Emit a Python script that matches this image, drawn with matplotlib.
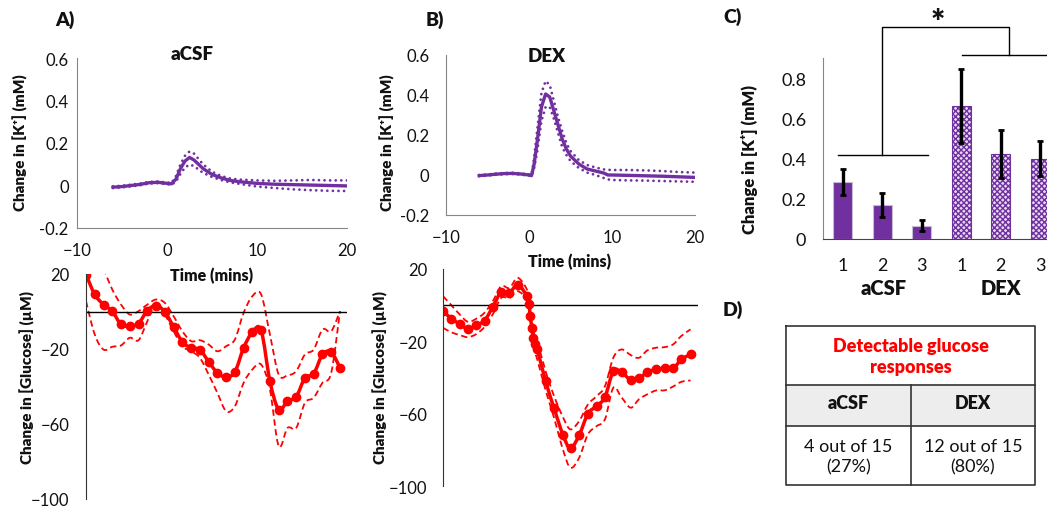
import numpy as np
import matplotlib.pyplot as plt
from matplotlib.path import Path
from matplotlib.patches import PathPatch

plt.rcParams['font.family'] = ['Lato', 'DejaVu Sans']

W, H = 1047, 510
PURPLE = '#7030A0'
RED = '#FF0000'
GREY = '#868686'

# --- K+ traces (mM), panel A (aCSF) and B (DEX) ---
k_acsf_t = [-6, -5, -4, -3, -2, -1, 0, 0.5, 1, 1.5, 2, 2.5, 3, 3.5, 4, 5, 6, 7, 8, 10, 12, 14, 16, 18, 20]
k_acsf_mean = [-0.008, -0.005, 0.0, 0.005, 0.013, 0.015, 0.01, 0.008, 0.03, 0.08, 0.115, 0.132, 0.12,
               0.1, 0.08, 0.052, 0.036, 0.024, 0.018, 0.01, 0.006, 0.004, 0.002, 0.0, -0.002]
k_acsf_hi = [-0.004, -0.001, 0.004, 0.009, 0.017, 0.019, 0.014, 0.012, 0.045, 0.1, 0.14, 0.16, 0.15,
             0.125, 0.1, 0.065, 0.045, 0.033, 0.028, 0.024, 0.022, 0.024, 0.026, 0.024, 0.024]
k_acsf_lo = [-0.012, -0.009, -0.004, 0.001, 0.009, 0.011, 0.006, 0.004, 0.018, 0.055, 0.085, 0.098, 0.092,
             0.075, 0.06, 0.04, 0.026, 0.015, 0.008, -0.005, -0.012, -0.018, -0.022, -0.025, -0.026]

k_dex_t = [-6, -5, -4, -3, -2, -1, 0, 0.3, 0.6, 1, 1.5, 2, 2.5, 3, 3.5, 4, 4.5, 5, 6, 7, 8, 9, 9.5,
           10, 12, 14, 16, 18, 20]
k_dex_mean = [-0.003, 0.0, 0.004, 0.007, 0.008, 0.005, 0.0, -0.003, 0.05, 0.17, 0.34, 0.405, 0.39, 0.32,
              0.25, 0.18, 0.13, 0.095, 0.055, 0.03, 0.02, 0.01, 0.0, 0.0, -0.002, -0.004, -0.006, -0.009, -0.012]
k_dex_hi = [0.0, 0.003, 0.007, 0.01, 0.011, 0.008, 0.003, 0.0, 0.08, 0.23, 0.41, 0.47, 0.45, 0.37,
            0.29, 0.22, 0.16, 0.12, 0.075, 0.05, 0.038, 0.028, 0.026, 0.025, 0.025, 0.023, 0.02, 0.015, 0.012]
k_dex_lo = [-0.006, -0.003, 0.001, 0.004, 0.005, 0.002, -0.003, -0.006, 0.03, 0.12, 0.27, 0.34, 0.34, 0.28,
            0.21, 0.14, 0.1, 0.07, 0.035, 0.012, 0.0, -0.015, -0.022, -0.025, -0.027, -0.028, -0.03, -0.032, -0.034]

# --- glucose traces (uM) ---
glu_acsf_t = list(range(-9, 21))
glu_acsf_mean = [19.7, 9.1, 3.7, 0.2, -6.9, -7.8, -6.4, 0.5, 3.2, -0.2, -8.2, -16.2, -19.4, -20.3, -26.8,
                 -32.7, -35.0, -32.2, -19.4, -11.0, -10.1, -37.2, -52.3, -47.8, -45.5, -35.4, -33.2, -22.9,
                 -21.7, -30.0]
glu_acsf_hi = [np.nan, np.nan, 23, 11.7, 3.7, -1.6, 0.2, 3.7, 6.4, 4.6, -2.5, -10.5, -15.8, -15.3, -17.6,
               -21.2, -18.5, -14.9, -0.7, 8.2, 9.1, -12.3, -33.6, -34.1, -31.8, -22.9, -20.3, -9.6, -10.5, 0.2]
glu_acsf_lo = [5.5, -12.3, -20.3, -18.8, -18.1, -14.0, -15.3, -5.2, 4.6, -1.6, -10.5, -18.5, -21.2, -24.7,
               -33.6, -43.4, -53.2, -50.5, -38.0, -30.9, -28.3, -41.6, -71.8, -62.1, -62.1, -48.7, -46.0,
               -38.0, -32.7, 0.2]

glu_dex_t = [-10, -9, -8, -7, -6, -5, -4, -3, -2, -1, 0.1, 0.35, 0.5, 0.7, 0.85, 1.05, 1.35, 2.35, 3.35,
             4.45, 5.35, 6.4, 7.45, 8.5, 9.5, 10.5, 11.5, 12.6, 13.6, 14.6, 15.7, 16.7, 17.7, 18.7, 19.8]
glu_dex_mean = [-3.3, -7.4, -10.3, -13.1, -11, -8.5, -0.9, 7.2, 6.8, 11.4, 5.0, 0.4, -6, -12.5, -18, -21.7,
                -24.5, -42, -56.7, -71.8, -79.2, -71.8, -60, -55.8, -50.8, -36.5, -37, -41.4, -40.5, -37,
                -35.5, -35, -35, -30, -27.2]
glu_dex_hi = [5.0, 0, -5.1, -9.2, -7.5, -4.2, 2.2, 10.5, 9.5, 15.1, 8.7, 3, -2, -8, -13, -17, -20, -36.5,
              -50, -62, -68.7, -64, -54.9, -50.3, -44.8, -29.1, -24.5, -27.6, -29.1, -25, -23.5, -23.2,
              -21.7, -17, -13.4]
glu_dex_lo = [-12.5, -15, -16.5, -17.7, -16, -12, -5, 4.0, 4.0, 7.7, 3.1, -3, -9, -16, -22, -26, -30, -47,
              -62, -80, -89.9, -84.3, -71.4, -66.9, -63.1, -45.7, -51, -56.7, -52, -49.3, -47.1, -47.1,
              -45, -42.4, -41.6]

# --- panel C bars ---
bar_groups = ['aCSF', 'DEX']
bar_labels = ['1', '2', '3', '1', '2', '3']
bar_means = [0.283, 0.17, 0.067, 0.662, 0.423, 0.40]
bar_sems = [0.064, 0.061, 0.029, 0.185, 0.118, 0.088]

# --- panel D table ---
table_title = 'Detectable glucose\nresponses'
table_head = ['aCSF', 'DEX']
table_cells = ['4 out of 15\n(27%)', '12 out of 15\n(80%)']


def box(l, t, r, b):
    # pixel box -> figure fraction rect
    return [l / W, 1 - b / H, (r - l) / W, (b - t) / H]


def smooth_path(t, y):
    # Excel-style smoothed line: cubic bezier through the points (catmull-rom handles)
    pts = np.array([(a, b) for a, b in zip(t, y) if not np.isnan(b)], float)
    verts = [pts[0]]
    codes = [Path.MOVETO]
    n = len(pts)
    for i in range(n - 1):
        p0 = pts[max(i - 1, 0)]
        p1, p2 = pts[i], pts[i + 1]
        p3 = pts[min(i + 2, n - 1)]
        c1 = p1 + (p2 - p0) / 6
        c2 = p2 - (p3 - p1) / 6
        verts += [c1, c2, p2]
        codes += [Path.CURVE4] * 3
    return Path(verts, codes)


fig = plt.figure(figsize=(W / 100, H / 100), dpi=100)
TXT = '#111111'


def k_panel(rect, t, mean, hi, lo, ypad):
    ax = fig.add_axes(rect)
    for s in (hi, lo):
        ax.plot(t, s, color=PURPLE, lw=2.0, ls=(0, (0.01, 2.0)), dash_capstyle='round')
    ax.plot(t, mean, color=PURPLE, lw=2.4)
    ax.set_xlim(-10, 20)
    ax.set_ylim(-0.2, 0.6)
    ax.set_xticks([-10, 0, 10, 20])
    ax.set_yticks([-0.2, 0, 0.2, 0.4, 0.6])
    ax.set_yticklabels(['-0.2', '0', '0.2', '0.4', '0.6'])
    ax.tick_params(axis='y', length=0, labelsize=12, pad=ypad, colors=TXT)
    ax.tick_params(axis='x', length=0, labelsize=12, pad=10, colors=TXT)
    for s in ('top', 'right'):
        ax.spines[s].set_visible(False)
    for s in ('left', 'bottom'):
        ax.spines[s].set_color(GREY)
    return ax


def glu_panel(rect, t, mean, hi, lo, xlim, ypad):
    ax = fig.add_axes(rect)
    ax.axhline(0, color='black', lw=1)
    for s in (hi, lo):
        ax.add_patch(PathPatch(smooth_path(t, s), fill=False, edgecolor=RED, lw=1.3,
                               ls=(0, (3.5, 2))))
    ax.add_patch(PathPatch(smooth_path(t, mean), fill=False, edgecolor=RED, lw=2.5))
    ax.plot(t, mean, ls='none', color=RED, marker='o', ms=6)
    ax.set_xlim(*xlim)
    ax.set_ylim(-100, 20)
    ax.set_xticks([])
    ax.set_yticks([-100, -60, -20, 20])
    ax.tick_params(axis='y', length=0, labelsize=12, pad=ypad, colors=TXT)
    for s in ('top', 'right', 'bottom'):
        ax.spines[s].set_visible(False)
    ax.spines['left'].set_color('#333333')
    return ax


k_panel(box(77, 59, 347, 229), k_acsf_t, k_acsf_mean, k_acsf_hi, k_acsf_lo, 6)
k_panel(box(446, 56, 695, 216), k_dex_t, k_dex_mean, k_dex_hi, k_dex_lo, 12)
glu_panel(box(86, 275, 347, 500), glu_acsf_t, glu_acsf_mean, glu_acsf_hi, glu_acsf_lo, (-9, 20.8), 12)
glu_panel(box(443, 270, 698, 487), glu_dex_t, glu_dex_mean, glu_dex_hi, glu_dex_lo, (-10, 20.7), 11)

# panel C
axc = fig.add_axes(box(823, 59, 1060, 240))
x = np.arange(len(bar_means))
axc.bar(x[:3], bar_means[:3], width=0.48, color=PURPLE, edgecolor='#c8bcd4', lw=0.8)
axc.bar(x[3:], bar_means[3:], width=0.48, color='#e6d9f0', edgecolor=PURPLE, lw=0.8, hatch='xxxxxx')
axc.errorbar(x, bar_means, yerr=bar_sems, fmt='none', ecolor='black', elinewidth=2.4, capsize=2.5,
             capthick=2)
axc.set_xlim(-0.5, 5.5)
axc.set_ylim(0, 0.9)
axc.set_yticks([0, 0.2, 0.4, 0.6, 0.8])
axc.set_yticklabels(['0', '0.2', '0.4', '0.6', '0.8'])
axc.set_xticks(x)
axc.set_xticklabels(bar_labels)
axc.tick_params(axis='y', length=0, labelsize=13, pad=12, colors=TXT)
axc.tick_params(axis='x', length=0, labelsize=13, pad=13, colors=TXT)
for s in ('top', 'right'):
    axc.spines[s].set_visible(False)
axc.spines['left'].set_color(GREY)
axc.spines['bottom'].set_color('#444444')

# significance bracket
bk = dict(color='black', lw=1, clip_on=False)
axc.plot([-0.12, 2.15], [0.42, 0.42], **bk)
axc.plot([1.0, 1.0, 4.22, 4.22], [0.42, 1.053, 1.053, 0.917], **bk)
axc.plot([3.01, 6.0], [0.917, 0.917], **bk)

# overlay for labels and the table
ov = fig.add_axes([0, 0, 1, 1])
ov.set_xlim(0, W)
ov.set_ylim(H, 0)
ov.axis('off')

bold = dict(fontweight='heavy', ha='center', va='center', color=TXT)
for lab, px, py in [('A)', 65, 20), ('B)', 435, 20), ('C)', 733, 17), ('D)', 733, 310)]:
    ov.text(px, py, lab, fontsize=14, **bold)
ov.text(192, 54, 'aCSF', fontsize=13.5, **bold)
ov.text(547, 57, 'DEX', fontsize=13.5, **bold)
ov.text(212, 276, 'Time (mins)', fontsize=11.5, **bold)
ov.text(570, 262, 'Time (mins)', fontsize=11.5, **bold)
ov.text(20, 143, 'Change in [K⁺] (mM)', fontsize=11, rotation=90, **bold)
ov.text(387, 143, 'Change in [K⁺] (mM)', fontsize=11, rotation=90, **bold)
ov.text(27, 378, 'Change in [Glucose] (µM)', fontsize=11, rotation=90, **bold)
ov.text(380, 378, 'Change in [Glucose] (µM)', fontsize=11, rotation=90, **bold)
ov.text(750, 160, 'Change in [K⁺] (mM)', fontsize=12, rotation=90, **bold)
ov.text(884, 289, bar_groups[0], fontsize=14.5, **bold)
ov.text(1001, 289, bar_groups[1], fontsize=14.5, **bold)
ov.text(938, 24, '*', fontsize=24, **bold)

# table D
tl, tr, tt, tb = 786, 1035, 327, 486
r1, r2, cm = 386, 427, 911
ov.fill_between([tl, tr], r1, r2, color='#EDEDED', lw=0)
tk = dict(color='#333333', lw=1.2)
ov.plot([tl, tr, tr, tl, tl], [tt, tt, tb, tb, tt], **tk)
ov.plot([tl, tr], [r1, r1], **tk)
ov.plot([tl, tr], [r2, r2], **tk)
ov.plot([cm, cm], [r1, tb], **tk)
ov.text((tl + tr) / 2, 357, table_title, fontsize=13, fontweight='heavy', color=RED, ha='center',
        va='center', linespacing=1.3)
for i, (hd, cell) in enumerate(zip(table_head, table_cells)):
    cx = (tl + cm) / 2 if i == 0 else (cm + tr) / 2
    ov.text(cx, 404, hd, fontsize=13, **bold)
    ov.text(cx, 457, cell, fontsize=13, ha='center', va='center', color=TXT, linespacing=1.3)

fig.savefig('out.png', dpi=100)
